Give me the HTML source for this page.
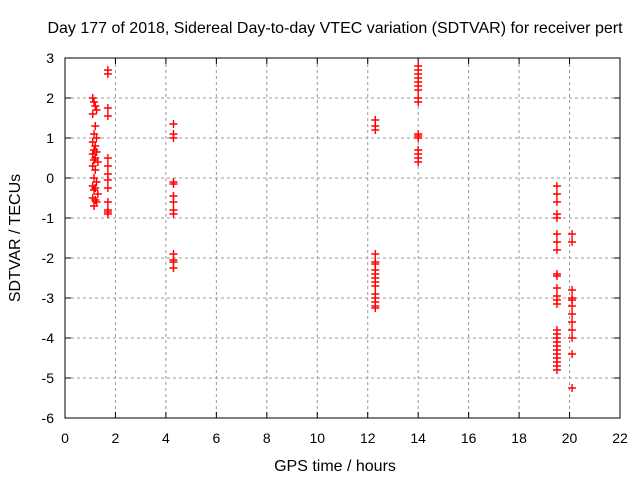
<!DOCTYPE html>
<html><head><meta charset="utf-8"><style>
body{margin:0;background:#fff}
svg text{font-family:"Liberation Sans",sans-serif;font-size:14px;fill:#000}
svg text.big{font-size:16px}
</style></head><body>
<svg id="c" width="640" height="480">
<text class="big" x="335" y="33" text-anchor="middle">Day 177 of 2018, Sidereal Day-to-day VTEC variation (SDTVAR) for receiver pert</text>
<text class="big" x="335" y="471" text-anchor="middle">GPS time / hours</text>
<text class="big" transform="translate(20,238) rotate(-90)" text-anchor="middle">SDTVAR / TECUs</text>
<g id="grid"></g><g id="ticks"></g><g id="marks"></g>
<rect x="65" y="58" width="555" height="360" fill="none" stroke="#000"/>
</svg>
<script>
const xTicks=[0,2,4,6,8,10,12,14,16,18,20,22];
const yTicks=[3,2,1,0,-1,-2,-3,-4,-5,-6];
const ptX=[1.1,1.15,1.2,1.25,1.1,1.2,1.15,1.25,1.1,1.2,1.15,1.25,1.1,1.2,1.15,1.3,1.1,1.2,1.15,1.25,1.1,1.2,1.15,1.3,1.1,1.2,1.25,1.15,
1.7,1.7,1.7,1.7,1.7,1.7,1.7,1.7,1.7,1.7,1.7,1.7,1.7,
4.3,4.3,4.3,4.3,4.3,4.3,4.3,4.3,4.3,4.3,4.3,4.3,4.3,
12.3,12.3,12.3,12.3,12.3,12.3,12.3,12.3,12.3,12.3,12.3,12.3,12.3,12.3,12.3,12.3,
14,14,14,14,14,14,14,14,14,14,14,14,14,14,14,14,
19.5,19.5,19.5,19.5,19.5,19.5,19.5,19.5,19.5,19.5,19.5,19.5,19.5,19.5,19.5,19.5,19.5,19.5,19.5,19.5,19.5,19.5,19.5,19.5,19.5,
20.1,20.1,20.1,20.1,20.1,20.1,20.1,20.1,20.1,20.1,20.1,20.1];
const ptY=[2.0,1.9,1.8,1.7,1.6,1.3,1.1,1.0,0.9,0.8,0.7,0.65,0.6,0.5,0.45,0.4,0.3,0.2,0.0,-0.1,-0.2,-0.25,-0.3,-0.4,-0.5,-0.55,-0.6,-0.7,
2.7,2.6,1.75,1.55,0.5,0.3,0.1,-0.05,-0.25,-0.6,-0.8,-0.85,-0.9,
1.35,1.1,1.0,-0.1,-0.15,-0.45,-0.6,-0.8,-0.9,-1.9,-2.05,-2.1,-2.25,
1.45,1.3,1.2,-1.9,-2.1,-2.15,-2.3,-2.4,-2.5,-2.6,-2.7,-2.9,-3.0,-3.1,-3.2,-3.25,
2.8,2.7,2.6,2.5,2.4,2.3,2.2,2.0,1.9,1.1,1.05,1.0,0.7,0.6,0.5,0.4,
-0.2,-0.4,-0.6,-0.9,-1.0,-1.4,-1.6,-1.8,-2.4,-2.45,-2.75,-2.95,-3.05,-3.15,-3.8,-3.9,-4.0,-4.1,-4.2,-4.3,-4.4,-4.5,-4.6,-4.7,-4.8,
-1.4,-1.6,-2.8,-3.0,-3.05,-3.2,-3.4,-3.6,-3.8,-4.0,-4.4,-5.25];
const NS='http://www.w3.org/2000/svg';
const sx=v=>65+v*(555/22), sy=v=>58+(3-v)*40;
function mk(t,a,p){const e=document.createElementNS(NS,t);for(const k in a)e.setAttribute(k,a[k]);p.appendChild(e);return e;}
const g=document.getElementById('grid'),tk=document.getElementById('ticks'),m=document.getElementById('marks');
xTicks.forEach(v=>{const x=sx(v);
 if(v>0&&v<22){const l=mk('line',{x1:x,x2:x,y1:58,y2:418,stroke:'#999','stroke-dasharray':'3,3'},g);
 
 }
 mk('line',{x1:x,x2:x,y1:418,y2:412,stroke:'#000'},tk);mk('line',{x1:x,x2:x,y1:58,y2:64,stroke:'#000'},tk);
 const t=mk('text',{x:x,y:443,'text-anchor':'middle'},tk);t.textContent=v;
 
 });
yTicks.forEach(v=>{const y=sy(v);
 if(v<3&&v>-6){const l=mk('line',{x1:65,x2:620,y1:y,y2:y,stroke:'#999','stroke-dasharray':'3,3'},g);
 
 }
 mk('line',{x1:65,x2:71,y1:y,y2:y,stroke:'#000'},tk);mk('line',{x1:614,x2:620,y1:y,y2:y,stroke:'#000'},tk);
 const t=mk('text',{x:54,y:y+5,'text-anchor':'end'},tk);t.textContent=v;
 
 });
ptX.forEach((xv,i)=>{const x=sx(xv),y=sy(ptY[i]);
 const p=mk('path',{d:`M${x-4},${y}H${x+4}M${x},${y-4}V${y+4}`,stroke:'#f00','stroke-width':1.4},m);
 
 });
</script>
</body></html>
